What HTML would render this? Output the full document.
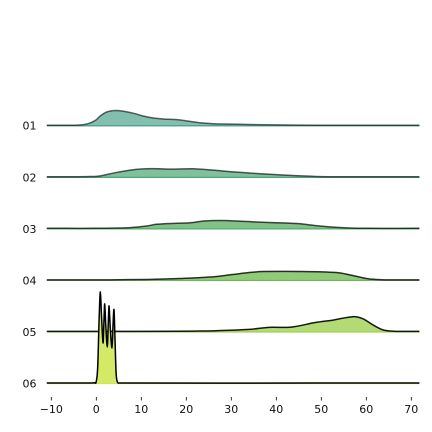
<!DOCTYPE html>
<html>
<head>
<meta charset="utf-8">
<style>
html,body{margin:0;padding:0;background:#fff;}
svg{display:block;}
text{font-family:"DejaVu Sans","Liberation Sans",sans-serif;font-size:11px;fill:#111;}
</style>
</head>
<body>
<svg id="chart" width="432" height="432" viewBox="0 0 432 432" xmlns="http://www.w3.org/2000/svg"></svg>
<script>
const categories = ['01','02','03','04','05','06'];
const xTicks = [-10,0,10,20,30,40,50,60,70];
const fillColors = ['#82bfaf','#80c09b','#80c388','#90cb78','#b2da75','#d4e965'];
const baseColors = ['#3f9a87','#4aa47c','#55ac68','#6cb856','#a0d050','#cfe650'];
const lineOpacity = [0.6,0.64,0.7,0.8,0.9,1];

const xs01 = [-11,-5,-3,-1.5,0,0.8,2.3,4.2,6,8.2,10.4,12.7,14.9,17.9,20.8,23,26,30,35,40,45,50,71.8];
const ys01 = [0,0,0.4,2,5.5,9,13.2,14.7,14,12,9.2,7.2,6.2,5.6,3.8,2.4,1.5,1.1,0.6,0.3,0.1,0,0];
const xs02 = [-11,-4,-1.4,0.8,4.5,8.2,11.2,14,17,21.5,26,30,34,41.4,48.8,55,71.8];
const ys02 = [0,0,0.2,0.8,4.3,7,8,8,7.6,8,6.6,5,3.7,1.7,0.3,0,0];
const xs03 = [-11,0,3.7,7.5,11.2,13.4,17.9,20.9,23.9,27.6,33,37,44.5,48.8,52.6,56.3,60,71.8];
const ys03 = [0,0,0.2,0.7,2.3,4,5,5.5,7.3,7.8,6.9,6,4.8,2.7,1.2,0.3,0,0];
const xs04 = [-11,3,11.2,18.6,25.3,30.3,34,37,45,53.3,56.3,60,62.2,65,71.8];
const ys04 = [0,0,0.4,1.3,2.8,5.3,7.3,8.3,8.4,7.3,5,1.3,0.3,0,0];
const xs05 = [-11,10,18,22,26.6,34,38.4,43.3,48.8,52.6,57,59.2,61.4,63.7,66,71.8];
const ys05 = [0,0,0.1,0.3,0.7,2,4,4.3,9,11.3,14.7,12.7,6.7,1.5,0.2,0];
const xs06 = [-11,-1,-0.3,-0.05,0.3,0.67,0.9,1.15,1.5,1.7,1.86,2.1,2.45,2.65,2.83,3.1,3.5,3.7,3.93,4.15,4.4,4.7,5.1,71.8];
const ys06 = [0,0,0.2,0.7,15,70,91,68,40,62,79,58,36,58,77,55,35,56,73.4,45,10,1,0,0];

const xSeries = [xs01,xs02,xs03,xs04,xs05,xs06];
const ySeries = [ys01,ys02,ys03,ys04,ys05,ys06];

const NS = 'http://www.w3.org/2000/svg';
const svg = document.getElementById('chart');
const X_ZERO = 96.3, X_UNIT = 4.5;
const ROW_TOP = 125.2, ROW_STEP = 51.55;
const TICK_TOP = 397;
function xScale(v){ return X_ZERO + v * X_UNIT; }
function rowBase(i){ return ROW_TOP + i * ROW_STEP; }
function yScale(v, i){ return rowBase(i) - v; }
function make(tag, attrs, parent){
  const el = document.createElementNS(NS, tag);
  for (const k in attrs) el.setAttribute(k, attrs[k]);
  parent.appendChild(el);
  return el;
}
function curve(pts){
  let d = 'M' + pts[0][0].toFixed(2) + ' ' + pts[0][1].toFixed(2);
  for (let i = 0; i < pts.length - 1; i++){
    const a = pts[Math.max(i-1,0)], b = pts[i], c = pts[i+1], e = pts[Math.min(i+2,pts.length-1)];
    const w = (c[0]-b[0]);
    const m1 = (c[1]-a[1]) / Math.max(c[0]-a[0], 0.01);
    const m2 = (e[1]-b[1]) / Math.max(e[0]-b[0], 0.01);
    const c1x = b[0] + w/3, c1y = b[1] + m1*w/3;
    const c2x = c[0] - w/3, c2y = c[1] - m2*w/3;
    d += 'C' + c1x.toFixed(2) + ' ' + c1y.toFixed(2) + ' ' + c2x.toFixed(2) + ' ' + c2y.toFixed(2) + ' ' + c[0].toFixed(2) + ' ' + c[1].toFixed(2);
  }
  return d;
}

categories.forEach(function(cat, i){
  const xv = xSeries[i], yv = ySeries[i];
  const pts = xv.map(function(x, j){ return [xScale(x), yScale(yv[j], i)]; });
  const base = rowBase(i);
  const first = xScale(xv[0]), last = xScale(xv[xv.length-1]);
  const g = make('g', {}, svg);
  
  

  const fill = make('path', {
    d: curve(pts) + 'L' + last + ' ' + (base + 1) + 'L' + first + ' ' + (base + 1) + 'Z',
    fill: fillColors[i], stroke: 'none'
  }, g);
  
  

  const bl = make('line', {
    x1: first, x2: last, y1: base + 0.6, y2: base + 0.6,
    stroke: baseColors[i], 'stroke-width': 1.2
  }, g);
  
  

  const ln = make('path', {
    d: curve(pts), fill: 'none', stroke: '#000', 'stroke-opacity': lineOpacity[i],
    'stroke-width': 1.5, 'stroke-linejoin': 'round'
  }, g);
  
  

  const lab = make('text', { x: 36.5, y: base + 4.5, 'text-anchor': 'end' }, svg);
  lab.textContent = cat;
  
  
});

xTicks.forEach(function(t){
  const px = xScale(t);
  const tick = make('line', { x1: px, x2: px, y1: TICK_TOP, y2: TICK_TOP + 3.5, stroke: '#000', 'stroke-width': 0.8 }, svg);
  
  
  const lab = make('text', { x: px, y: 413, 'text-anchor': 'middle' }, svg);
  lab.textContent = String(t).replace('-', '\u2212');
  
  
});
</script>
</body>
</html>
